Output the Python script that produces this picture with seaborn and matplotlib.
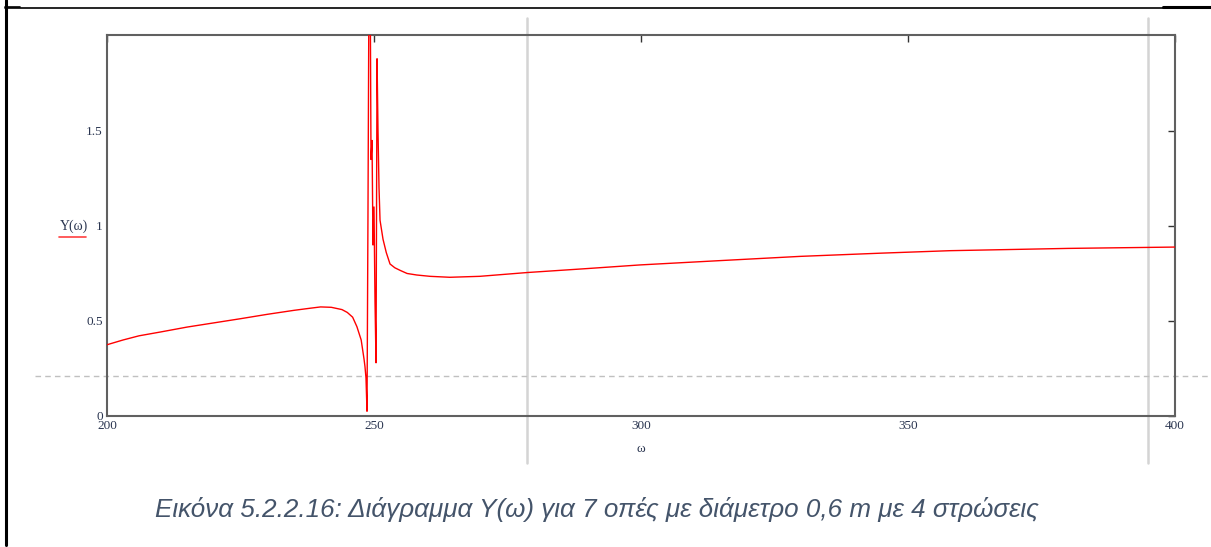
import numpy as np
import pandas as pd
import matplotlib
matplotlib.use("Agg")
import matplotlib.pyplot as plt
import seaborn as sns
from matplotlib.lines import Line2D

# ---- data ----
omega = [200, 203, 206, 210, 215, 220, 225, 230, 235, 238, 240, 242, 244, 245,
         246, 246.8, 247.6, 248.13, 248.31, 248.50, 248.69, 248.87, 249.06, 249.25,
         249.44, 249.63, 249.81, 250.00, 250.19, 250.38, 250.57, 250.75, 250.94,
         251.13, 251.69, 252.3, 253.0, 253.9, 255.0, 256.2, 258.0, 260.5, 264.2,
         269.8, 278.7, 290, 299.8, 315, 329.8, 345, 357.9, 380, 400]
Y = [0.375, 0.400, 0.422, 0.442, 0.468, 0.490, 0.512, 0.535, 0.556, 0.567, 0.574, 0.572, 0.560, 0.545,
     0.520, 0.470, 0.400, 0.300, 0.260, 0.200, 0.025, 1.05, 2.30, 2.50,
     1.35, 1.45, 0.90, 1.10, 0.60, 0.28, 1.88, 1.50, 1.20,
     1.03, 0.93, 0.86, 0.80, 0.78, 0.765, 0.750, 0.742, 0.735, 0.730,
     0.735, 0.755, 0.776, 0.795, 0.818, 0.840, 0.857, 0.870, 0.882, 0.889]

x_ticks = [200, 250, 300, 350, 400]
x_tick_labels = ["200", "250", "300", "350", "400"]
y_ticks = [0, 0.5, 1, 1.5]
y_tick_labels = ["0", "0.5", "1", "1.5"]
marker_x = [278.7, 394.9]
marker_y = 0.21
caption = "Εικόνα 5.2.2.16: Διάγραμμα Υ(ω) για 7 οπές με διάμετρο 0,6 m με 4 στρώσεις"

df = pd.DataFrame({"omega": omega, "Y": Y})

sns.set_theme(style="white")
plt.rcParams['font.family'] = ['Liberation Serif', 'DejaVu Serif']

fig = plt.figure(figsize=(12.11, 5.47), dpi=100)
W, H = 1211, 547
ax = fig.add_axes([107 / W, 1 - 416 / H, (1175 - 107) / W, (416 - 35) / H])

sns.lineplot(data=df, x="omega", y="Y", ax=ax, color="#ff0000", lw=1.0,
             estimator=None, sort=False, zorder=5)

ax.set_xlim(200, 400)
ax.set_ylim(0, 2.005)
ax.set_xticks(x_ticks)
ax.set_xticklabels(x_tick_labels)
ax.set_yticks(y_ticks)
ax.set_yticklabels(y_tick_labels)
ax.tick_params(direction="in", length=5, width=1, color="#333333",
               labelsize=9.5, labelcolor="#2a3550", top=True, right=True,
               pad=3)
ax.tick_params(axis="y", pad=3)
for s in ax.spines.values():
    s.set_color("#606060")
    s.set_linewidth(1.5)
ax.set_xlabel("ω", fontsize=9.5, color="#2a3550", labelpad=8)
ax.set_ylabel("")

# reference markers (grey vertical lines and dashed horizontal line)
for mx in marker_x:
    ax.axvline(mx, ymin=(416 - 463) / 381, ymax=(416 - 18) / 381,
               color="#d4d4d4", lw=1.8, clip_on=False, zorder=1)
ax.axhline(marker_y, xmin=(35 - 107) / 1068, xmax=(1211 - 107) / 1068,
           color="#c0c0c0", lw=1.0, ls=(0, (4, 3)), clip_on=False, zorder=1)

# y label as legend-style trace name
fig.text(74 / W, 1 - 226 / H, "Y(ω)", fontsize=10, color="#2a3550",
         ha="center", va="center")
fig.add_artist(Line2D([59 / W, 86 / W], [1 - 237 / H, 1 - 237 / H],
                      color="#ff4040", lw=1.2))

# page borders
fig.add_artist(Line2D([5.5 / W, 5.5 / W], [1 - 0 / H, 1 - 545 / H], color="black", lw=2.2))
fig.add_artist(Line2D([5 / W, 1211 / W], [1 - 8 / H, 1 - 8 / H], color="black", lw=1.2))
fig.add_artist(Line2D([5 / W, 20 / W], [1 - 6.5 / H, 1 - 6.5 / H], color="black", lw=1.2))
fig.add_artist(Line2D([1163 / W, 1211 / W], [1 - 7 / H, 1 - 7 / H], color="black", lw=2.2))

# caption
fig.text(597 / W, 1 - 510 / H, caption, fontsize=18.7, style="italic",
         color="#44546a", ha="center", va="center",
         family=["Liberation Sans", "DejaVu Sans"])

fig.savefig("out.png", dpi=100)
